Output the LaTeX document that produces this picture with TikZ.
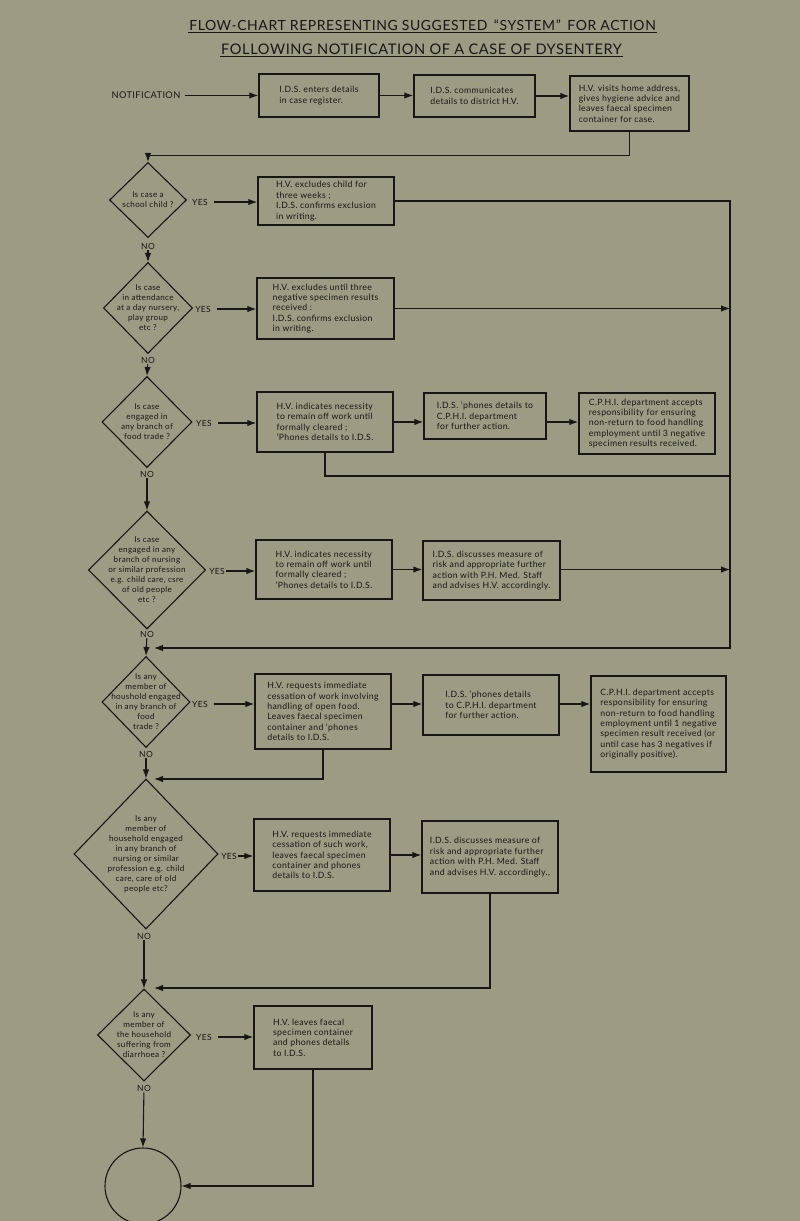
\documentclass[tikz,border=0pt]{standalone}
\usepackage{fontspec}
\setmainfont{Lato}
\newfontfamily\chartfont{Lato}[LetterSpace=4, Ligatures=TeX]
\usetikzlibrary{arrows.meta,positioning,shapes.geometric,calc}
\definecolor{paper}{RGB}{158,155,132}
\definecolor{ink}{RGB}{24,23,21}
\newcommand{\bxfont}{\chartfont\fontsize{8.7}{10.4}\selectfont}
\newcommand{\dmfont}{\chartfont\fontsize{8.1}{10}\selectfont}
\tikzset{
  flowbox/.style={draw=ink, line width=1.5pt, align=left, inner sep=0pt, font=\bxfont, text=ink},
  query/.style={diamond, draw=ink, line width=1.1pt, inner sep=0pt},
  qtext/.style={align=center, font=\dmfont, text=ink, inner sep=0pt},
  yesno/.style={font=\chartfont\fontsize{8.5}{10}\selectfont, text=ink, inner sep=1pt},
  link/.style={draw=ink, line width=1.1pt, -{Latex[length=9pt,width=6.5pt]}},
  wire/.style={draw=ink, line width=1.1pt}
}
\begin{document}
\begin{tikzpicture}[x=1pt, y=-1pt]
\fill[paper] (0,0) rectangle (800,1221);
\useasboundingbox (0,0) rectangle (800,1221);

% title
\node[font=\chartfont\fontsize{14}{16}\selectfont, text=ink, inner sep=1pt] (t1) at (422.5,25) {FLOW-CHART REPRESENTING SUGGESTED \,``SYSTEM''\, FOR ACTION};
\node[font=\chartfont\fontsize{14.6}{16}\selectfont, text=ink, inner sep=1pt] (t2) at (421.5,49) {FOLLOWING NOTIFICATION OF A CASE OF DYSENTERY};
\draw[ink, line width=1.5pt] ($(t1.south west)+(0,1)$) -- ($(t1.south east)+(0,1)$);
\draw[ink, line width=1.5pt] ($(t2.south west)+(0,1)$) -- ($(t2.south east)+(0,1)$);

% top row
\node[font=\chartfont\fontsize{9.3}{11}\selectfont, text=ink, inner sep=2pt] (notif) at (146,95.5) {NOTIFICATION};
\node[flowbox, minimum width=120pt, minimum height=43pt] (b1) at (319,95.5) {I.D.S. enters details\\in case register.};
\node[flowbox, minimum width=121pt, minimum height=42pt] (b2) at (474.5,96) {I.D.S. communicates\\details to district H.V.};
\node[flowbox, minimum width=119pt, minimum height=55pt] (b3) at (629.5,103.5) {H.V. visits home address,\\gives hygiene advice and\\leaves faecal specimen\\container for case.};

% questions
\node[query, minimum width=77pt, minimum height=75pt, label={[qtext]center:{Is case a\\school child ?}}] (d1) at (148,200) {};
\node[query, minimum width=89pt, minimum height=91pt, label={[qtext]center:{Is case\\in attendance\\at a day nursery,\\play group\\etc ?}}] (d2) at (148,308) {};
\node[query, minimum width=90pt, minimum height=91pt, label={[qtext]center:{Is case\\engaged in\\any branch of\\food trade ?}}] (d3) at (147,422) {};
\node[query, minimum width=117pt, minimum height=118pt, label={[qtext]center:{Is case\\engaged in any\\branch of nursing\\or similar profession\\e.g. child care, csre\\of old people\\etc ?}}] (d4) at (147,570) {};
\node[query, minimum width=88pt, minimum height=91pt, label={[qtext]center:{Is any\\member of\\houshold engaged\\in any branch of\\food\\trade ?}}] (d5) at (146,702) {};
\node[query, minimum width=144pt, minimum height=150pt, label={[qtext]center:{Is any\\member of\\household engaged\\in any branch of\\nursing or similar\\profession e.g. child\\care, care of old\\people etc?}}] (d6) at (146,854) {};
\node[query, minimum width=93pt, minimum height=92pt, label={[qtext]center:{Is any\\member of\\the household\\suffering from\\diarrhoea ?}}] (d7) at (144,1035) {};
\node[circle, draw=ink, line width=1.1pt, minimum size=76pt, inner sep=0pt] (c) at (143,1186) {};

% actions
\node[flowbox, minimum width=136pt, minimum height=48pt] (b11) at (326,201) {H.V. excludes child for\\three weeks ;\\I.D.S. confirms exclusion\\in writing.};
\node[flowbox, minimum width=137pt, minimum height=61pt] (b21) at (325.5,308.5) {H.V. excludes until three\\negative specimen results\\received :\\I.D.S. confirms exclusion\\in writing.};
\node[flowbox, minimum width=136pt, minimum height=60pt] (b31) at (325,422) {H.V. indicates necessity\\to remain off work until\\formally cleared ;\\'Phones details to I.D.S.};
\node[flowbox, minimum width=122pt, minimum height=46pt] (b32) at (485,416) {I.D.S. 'phones details to\\C.P.H.I. department\\for further action.};
\node[flowbox, minimum width=136pt, minimum height=61pt] (b33) at (647,423.5) {C.P.H.I. department accepts\\responsibility for ensuring\\non-return to food handling\\employment until 3 negative\\specimen results received.};
\node[flowbox, minimum width=136pt, minimum height=59pt] (b41) at (324,569.5) {H.V. indicates necessity\\to remain off work until\\formally cleared ;\\'Phones details to I.D.S.};
\node[flowbox, minimum width=137pt, minimum height=59pt] (b42) at (491.5,570.5) {I.D.S. discusses measure of\\risk and appropriate further\\action with P.H. Med. Staff\\and advises H.V. accordingly.};
\node[flowbox, minimum width=136pt, minimum height=75pt] (b51) at (323,711.5) {H.V. requests immediate\\cessation of work involving\\handling of open food.\\Leaves faecal specimen\\container and 'phones\\details to I.D.S.};
\node[flowbox, minimum width=136pt, minimum height=60pt] (b52) at (491,705) {I.D.S. 'phones details\\to C.P.H.I. department\\for further action.};
\node[flowbox, minimum width=135pt, minimum height=96pt] (b53) at (658.5,724) {C.P.H.I. department accepts\\responsibility for ensuring\\non-return to food handling\\employment until 1 negative\\specimen result received (or\\until case has 3 negatives if\\originally positive).};
\node[flowbox, minimum width=136pt, minimum height=72pt] (b61) at (322,855) {H.V. requests immediate\\cessation of such work,\\leaves faecal specimen\\container and phones\\details to I.D.S.};
\node[flowbox, minimum width=136pt, minimum height=72pt] (b62) at (490,857) {I.D.S. discusses measure of\\risk and appropriate further\\action with P.H. Med. Staff\\and advises H.V. accordingly.,};
\node[flowbox, minimum width=118pt, minimum height=63pt] (b71) at (313,1037.5) {H.V. leaves faecal\\specimen container\\and phones details\\to I.D.S.};

% yes / no labels
\node[yesno] (y1) at (200,202) {YES};
\node[yesno] (y2) at (203,309) {YES};
\node[yesno] (y3) at (204,423) {YES};
\node[yesno] (y4) at (217,571) {YES};
\node[yesno] (y5) at (200,704) {YES};
\node[yesno] (y6) at (229,856) {YES};
\node[yesno] (y7) at (204,1037) {YES};
\foreach \n/\x/\y in {1/148/246, 2/148/360, 3/147/474, 4/147/634, 5/146/754, 6/144/936, 7/144/1088}
  \node[yesno] (no\n) at (\x,\y) {NO};

% junctions
\coordinate (bus) at (730,202);
\coordinate (busC) at (730,476);
\coordinate (j5) at (154,648);
\coordinate (j6) at (154,779);
\coordinate (j7) at (154,988);

% connectors
\draw[link, shorten <=2pt] (notif) -- (b1);
\draw[link] (b1) -- (b1 -| b2.west);
\draw[link] (b2) -- (b2 -| b3.west);
\draw[link] (b3.south) -- ++(0,24) -| (d1.north);

\draw[link] (no1) -- (d2.north);
\draw[link] (no2) -- (d3.north);
\draw[link] (no3) -- (d4.north);
\draw[link] (no4) -- (d5.north);
\draw[link] (no5) -- (d6.north);
\draw[link] (no6) -- (d7.north);
\draw[link] (no7) -- (c.north);

\foreach \r in {1,2,3,5,7}
  \draw[link, shorten <=5pt] (y\r) -- (y\r -| b\r1.west);
\draw[link] (y4) -- (y4 -| b41.west);
\draw[link] (y6) -- (y6 -| b61.west);

\draw[link] (b11) -| (bus |- j5) -- (j5);
\draw[link] (b21) -- (b21 -| bus);
\draw[link] (b31) -- (b31 -| b32.west);
\draw[link] (b31 -| b32.east) -- (b31 -| b33.west);
\draw[wire] (b31.south) |- (busC);
\draw[link] (b41) -- (b41 -| b42.west);
\draw[link] (b41 -| b42.east) -- (b41 -| bus);
\draw[link] (b51.east |- y5) -- (y5 -| b52.west);
\draw[link] (b52.east |- y5) -- (y5 -| b53.west);
\draw[link] (b51.south) |- (j6);
\draw[link] (b61) -- (b61 -| b62.west);
\draw[link] (b62.south) |- (j7);
\draw[link] (b71.south) |- (c.east);
\end{tikzpicture}
\end{document}
